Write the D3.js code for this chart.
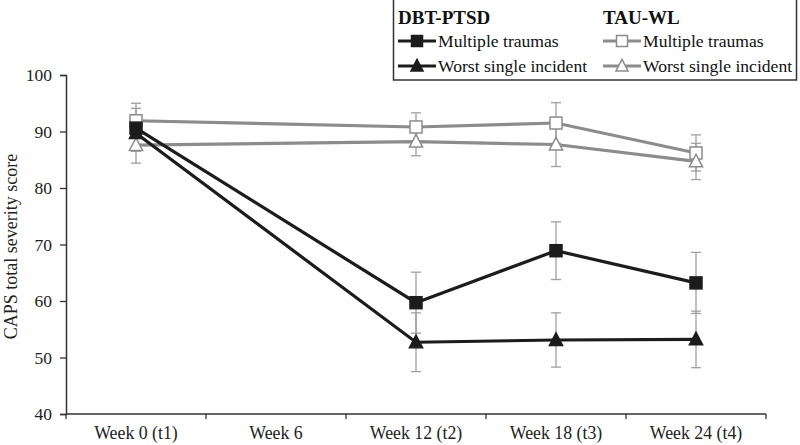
<!DOCTYPE html>
<html><head><meta charset="utf-8">
<script src="https://cdn.jsdelivr.net/npm/d3@7"></script>
<style>body{margin:0;background:#fff}svg{display:block}text{font-family:"Liberation Serif","Times New Roman",serif}</style>
</head><body><svg id="c" width="800" height="445"></svg>
<script>
const categories = ["Week 0 (t1)","Week 6","Week 12 (t2)","Week 18 (t3)","Week 24 (t4)"];
const yTicks = [40,50,60,70,80,90,100];
// values (null = not measured)
const dbtMultiple = [90.6, null, 59.7, 68.9, 63.2];
const dbtMultipleErr = [3.5, null, 5.4, 5.1, 5.4];
const dbtSingle = [89.7, null, 52.7, 53.1, 53.2];
const dbtSingleErr = [3.2, null, 5.2, 4.8, 5.0];
const tauMultiple = [91.9, null, 90.8, 91.5, 86.2];
const tauMultipleErr = [3.1, null, 2.5, 3.6, 3.2];
const tauSingle = [87.6, null, 88.2, 87.7, 84.7];
const tauSingleErr = [3.2, null, 2.5, 3.9, 3.2];

const series = [
  {group:"TAU-WL", name:"Multiple traumas", values:tauMultiple, err:tauMultipleErr, color:"#8c8c8c", shape:"square", fill:"#fff"},
  {group:"TAU-WL", name:"Worst single incident", values:tauSingle, err:tauSingleErr, color:"#8c8c8c", shape:"triangle", fill:"#fff"},
  {group:"DBT-PTSD", name:"Multiple traumas", values:dbtMultiple, err:dbtMultipleErr, color:"#1c1c1c", shape:"square", fill:"#1c1c1c"},
  {group:"DBT-PTSD", name:"Worst single incident", values:dbtSingle, err:dbtSingleErr, color:"#1c1c1c", shape:"triangle", fill:"#1c1c1c"}
];

const svg = d3.select("#c");
const m = {l:66, r:34, t:75, b:31};
const W = 800, H = 445;
const x = d3.scaleBand().domain(categories).range([m.l, W-m.r]);
const y = d3.scaleLinear().domain([40,100]).range([H-m.b, m.t]);
const cx = c => x(c) + x.bandwidth()/2;

// axes
const yAxis = svg.append("g").attr("transform",`translate(${m.l},0)`)
  .call(d3.axisLeft(y).tickValues(yTicks).tickSize(6).tickPadding(8).tickFormat(d3.format("d")));
const xAxis = svg.append("g").attr("transform",`translate(0,${H-m.b})`)
  .call(d3.axisBottom(x).tickSize(0).tickPadding(12));
[yAxis,xAxis].forEach(g=>{
  g.select(".domain").attr("stroke","#333").attr("stroke-width",1.5);
  g.selectAll(".tick line").attr("stroke","#333").attr("stroke-width",1.3);
  g.selectAll("text").attr("fill","#222").attr("font-family","Liberation Serif, serif");
});
yAxis.selectAll("text").attr("font-size",17.5);
xAxis.selectAll("text").attr("font-size",17.8);
xAxis.select(".domain").attr("d",`M${m.l},0H${W-m.r}`);
// category boundary ticks
const bounds = categories.map(c=>x(c)).concat([W-m.r]);
xAxis.selectAll(".btick").data(bounds).join("line").attr("class","btick")
  .attr("x1",d=>d).attr("x2",d=>d).attr("y1",0).attr("y2",5).attr("stroke","#333").attr("stroke-width",1.3);

svg.append("text").attr("transform",`translate(17,${(m.t+H-m.b)/2+2}) rotate(-90)`)
  .attr("text-anchor","middle").attr("font-size",18).attr("fill","#222").text("CAPS total severity score");

// error bars
const eb = svg.append("g");
series.forEach(s=>{
  categories.forEach((c,i)=>{
    if(s.values[i]==null) return;
    const v=s.values[i], e=s.err[i], X=cx(c);
    eb.append("line").attr("x1",X).attr("x2",X).attr("y1",y(v+e)).attr("y2",y(v-e)).attr("stroke","#a0a0a0").attr("stroke-width",1.3);
    [v+e,v-e].forEach(t=>eb.append("line").attr("x1",X-5).attr("x2",X+5).attr("y1",y(t)).attr("y2",y(t)).attr("stroke","#a0a0a0").attr("stroke-width",1.3));
  });
});

// lines
const line = d3.line().defined(d=>d.v!=null).x(d=>cx(d.c)).y(d=>y(d.v));
series.forEach(s=>{
  const pts = categories.map((c,i)=>({c,v:s.values[i]})).filter(d=>d.v!=null);
  svg.append("path").attr("d",line(pts)).attr("fill","none").attr("stroke",s.color).attr("stroke-width",3.2);
});

function marker(g,shape,X,Y,s,size){
  if(shape==="square"){
    g.append("rect").attr("x",X-size/2).attr("y",Y-size/2).attr("width",size).attr("height",size)
      .attr("fill",s.fill).attr("stroke",s.color).attr("stroke-width",1.5);
  } else {
    const h=size*1.0, w=size*1.1;
    g.append("path").attr("d",`M${X},${Y-h*0.6}L${X+w/2},${Y+h*0.45}L${X-w/2},${Y+h*0.45}Z`)
      .attr("fill",s.fill).attr("stroke",s.color).attr("stroke-width",1.5);
  }
}
series.forEach(s=>{
  categories.forEach((c,i)=>{ if(s.values[i]!=null) marker(svg,s.shape,cx(c),y(s.values[i]),s,12); });
});

// legend
const lg = svg.append("g");
lg.append("rect").attr("x",393.5).attr("y",-1).attr("width",403).attr("height",81).attr("fill","#fff").attr("stroke","#333").attr("stroke-width",1.5);
const groups = [{name:"DBT-PTSD", x:398},{name:"TAU-WL", x:603}];
groups.forEach(g=>{
  lg.append("text").attr("x",g.x).attr("y",24).attr("font-size",19).attr("font-weight","bold").attr("fill","#111").text(g.name);
  series.filter(s=>s.group===g.name).forEach((s,j)=>{
    const Y = 41 + j*25;
    lg.append("line").attr("x1",g.x).attr("x2",g.x+38).attr("y1",Y).attr("y2",Y).attr("stroke",s.color).attr("stroke-width",3.2);
    marker(lg,s.shape,g.x+19,Y,s,11);
    lg.append("text").attr("x",g.x+40).attr("y",Y+6).attr("font-size",17.6).attr("fill","#111").text(s.name);
  });
});
</script></body></html>
